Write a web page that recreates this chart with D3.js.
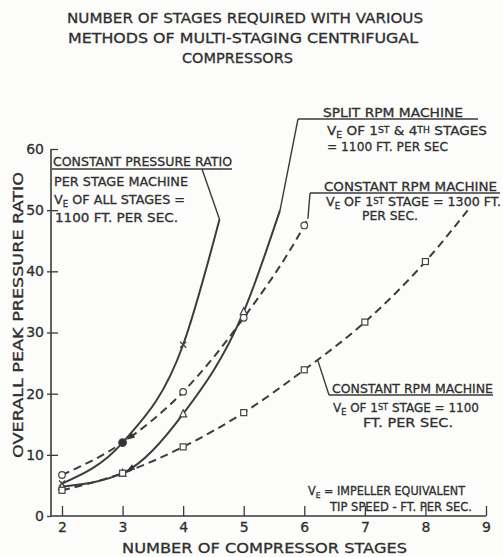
<!DOCTYPE html>
<html>
<head>
<meta charset="utf-8">
<script src="https://cdn.jsdelivr.net/npm/d3@7"></script>
<style>
  html, body { margin: 0; padding: 0; background: #fcfcfb; }
  svg { display: block; }
  text { font-family: "DejaVu Sans", "Liberation Sans", sans-serif; fill: #2f2f2f; stroke: #2f2f2f; stroke-width: 0.3px; }
</style>
</head>
<body>
<script>
// Axis ticks
const xTicks = [2, 3, 4, 5, 6, 7, 8, 9];
const yTicks = [0, 10, 20, 30, 40, 50, 60];

// Constant pressure ratio per stage machine (solid, x markers)
const cprStages = [2, 3, 4, 4.6];
const cprRatio  = [5.3, 12, 28, 48.5];

// Split RPM machine (solid, triangles)
const splitStages = [2, 3, 4, 5, 5.6];
const splitRatio  = [4.8, 7, 16.7, 33.4, 50];

// Constant RPM machine, 1st stage 1300 ft/s (dashed, circles)
const rpm1300Stages = [2, 3, 4, 5, 6, 6.06];
const rpm1300Ratio  = [6.7, 12, 20.3, 32.4, 47.5, 48.6];

// Constant RPM machine, 1st stage 1100 ft/s (dashed, squares)
const rpm1100Stages = [2, 3, 4, 5, 6, 7, 8, 8.7];
const rpm1100Ratio  = [4.2, 7, 11.3, 16.9, 23.9, 31.7, 41.6, 50];

const W = 503, H = 557;
const INK = "#3a3a3a";

const svg = d3.select("body").append("svg").attr("width", W).attr("height", H);

const x = d3.scaleLinear().domain([2, 9]).range([62, 486]);
const y = d3.scaleLinear().domain([0, 60]).range([516, 149]);
const axisX = 51;

// text squeezed or stretched to a given span
function fitText(g, str, x0, x1, baseline, size) {
  const t = g.append("text")
    .attr("x", x0).attr("y", baseline)
    .attr("font-size", size)
    .attr("textLength", x1 - x0)
    .attr("lengthAdjust", "spacingAndGlyphs");
  if (Array.isArray(str)) {
    str.forEach(part => {
      const ts = t.append("tspan").text(part.t);
      if (part.sub) ts.attr("font-size", size * 0.68);
      if (part.dy) ts.attr("dy", part.dy);
    });
  } else t.text(str);
  return t;
}

// ---------- title ----------
const title = svg.append("g").attr("class", "title").style("stroke-width", "0.45px");
fitText(title, "NUMBER OF STAGES REQUIRED WITH VARIOUS", 67, 423, 23, 14);
fitText(title, "METHODS OF MULTI-STAGING  CENTRIFUGAL", 68, 418, 43, 14);
fitText(title, "COMPRESSORS", 182, 293, 63, 14);

// ---------- axes ----------
const ax = svg.append("g").attr("class", "axes");
ax.append("line").attr("x1", axisX).attr("x2", axisX).attr("y1", y(0)).attr("y2", y(60))
  .attr("stroke", INK).attr("stroke-width", 1.6);
ax.append("line").attr("x1", axisX).attr("x2", x(9)).attr("y1", y(0)).attr("y2", y(0))
  .attr("stroke", INK).attr("stroke-width", 1.6);

const yAxis = ax.append("g").attr("transform", `translate(${axisX},0)`)
  .call(d3.axisLeft(y).tickValues(yTicks).tickFormat(d3.format("d"))
    .tickSizeInner(-7).tickSizeOuter(0).tickPadding(7));
yAxis.select(".domain").remove();
yAxis.selectAll(".tick line")
  .attr("x1", d => (d === 60 ? 0 : -4)).attr("x2", d => (d === 0 ? 0 : 7))
  .attr("stroke", INK).attr("stroke-width", 1.3);
yAxis.selectAll(".tick text").attr("font-size", 14).attr("fill", "#333")
  .attr("font-family", "DejaVu Sans, sans-serif");

const xAxis = ax.append("g").attr("transform", `translate(0,${y(0)})`)
  .call(d3.axisBottom(x).tickValues(xTicks).tickFormat(d3.format("d"))
    .tickSizeInner(-10).tickSizeOuter(0).tickPadding(6));
xAxis.select(".domain").remove();
xAxis.selectAll(".tick line").attr("stroke", INK).attr("stroke-width", 1.3);
xAxis.selectAll(".tick text").attr("font-size", 14).attr("fill", "#333")
  .attr("font-family", "DejaVu Sans, sans-serif");

svg.append("text").attr("x", 122).attr("y", 553)
  .attr("font-size", 14.5).attr("textLength", 285).attr("lengthAdjust", "spacingAndGlyphs")
  .text("NUMBER OF COMPRESSOR STAGES");

svg.append("text").attr("transform", "translate(23,315) rotate(-90)").attr("text-anchor", "middle")
  .attr("font-size", 14).attr("textLength", 286).attr("lengthAdjust", "spacingAndGlyphs")
  .text("OVERALL PEAK PRESSURE RATIO");

// ---------- curves ----------
const line = d3.line().x(d => x(d[0])).y(d => y(d[1])).curve(d3.curveMonotoneX);
const pts = (xs, ys) => xs.map((v, i) => [v, ys[i]]);

const series = [
  { key: "cpr",   data: pts(cprStages, cprRatio),         dash: null,  marker: "x" },
  { key: "split", data: pts(splitStages, splitRatio),     dash: null,  marker: "tri" },
  { key: "r1300", data: pts(rpm1300Stages, rpm1300Ratio), dash: "8,5", marker: "circle" },
  { key: "r1100", data: pts(rpm1100Stages, rpm1100Ratio), dash: "8,5", marker: "square" }
];

const curves = svg.append("g").attr("class", "curves");
const paths = {};
series.forEach(s => {
  paths[s.key] = curves.append("path").datum(s.data).attr("d", line)
    .attr("fill", "none").attr("stroke", "#3c3c3c").attr("stroke-width", 2)
    .attr("stroke-dasharray", s.dash);
});

// point on a drawn curve at a given stage value
function pointAtStage(pathSel, stage) {
  const node = pathSel.node(), len = node.getTotalLength(), target = x(stage);
  let lo = 0, hi = len;
  for (let i = 0; i < 40; i++) {
    const mid = (lo + hi) / 2;
    if (node.getPointAtLength(mid).x < target) lo = mid; else hi = mid;
  }
  return node.getPointAtLength(lo);
}
const last = a => a[a.length - 1];

// small arrowheads pointing into the stage-3 junction points
const arrows = svg.append("g").attr("class", "arrows");
[["r1300", 3], ["split", 3]].forEach(([key, st]) => {
  const tip = pointAtStage(paths[key], st + 0.07);
  const back = pointAtStage(paths[key], st + 0.2);
  const dx = tip.x - back.x, dy = tip.y - back.y, L = Math.hypot(dx, dy);
  const ux = dx / L, uy = dy / L, px = -uy, py = ux;
  const bx = tip.x - ux * 8, by = tip.y - uy * 8;
  arrows.append("path")
    .attr("d", `M${tip.x},${tip.y}L${bx + px * 3},${by + py * 3}L${bx - px * 3},${by - py * 3}Z`)
    .attr("fill", "#333");
});

// markers on whole-stage points
const mk = svg.append("g").attr("class", "markers");
series.forEach(s => {
  s.data.filter(d => Number.isInteger(d[0])).forEach(d => {
    const cx = x(d[0]), cy = y(d[1]);
    if (s.marker === "circle") {
      const filled = d[0] === 3;
      mk.append("circle").attr("cx", cx).attr("cy", cy).attr("r", filled ? 3.8 : 3.3)
        .attr("fill", filled ? "#333" : "#fcfcfb").attr("stroke", "#444").attr("stroke-width", 1.2);
    } else if (s.marker === "square") {
      mk.append("rect").attr("x", cx - 3).attr("y", cy - 3).attr("width", 6).attr("height", 6)
        .attr("fill", "#fcfcfb").attr("stroke", "#444").attr("stroke-width", 1.2);
    } else if (s.marker === "tri") {
      mk.append("path").attr("d", `M${cx},${cy - 4}L${cx + 3.5},${cy + 3}L${cx - 3.5},${cy + 3}Z`)
        .attr("fill", "#fcfcfb").attr("stroke", "#444").attr("stroke-width", 1.2);
    } else if (s.marker === "x" && d[0] !== 3) {
      mk.append("path").attr("d", `M${cx - 3},${cy - 3}L${cx + 3},${cy + 3}M${cx + 3},${cy - 3}L${cx - 3},${cy + 3}`)
        .attr("stroke", "#444").attr("stroke-width", 1.3);
    }
  });
});

// ---------- annotations ----------
const ann = svg.append("g").attr("class", "annotations");
const leader = (p0, p1) => ann.append("path").attr("d", `M${p0[0]},${p0[1]}L${p1[0]},${p1[1]}`)
  .attr("fill", "none").attr("stroke", INK).attr("stroke-width", 1.4);
const underline = (x0, x1, yy) => ann.append("line").attr("x1", x0).attr("x2", x1).attr("y1", yy).attr("y2", yy)
  .attr("stroke", INK).attr("stroke-width", 1.5);

const S = 13;
const VE = rest => [{ t: "V" }, { t: "E", sub: true, dy: 3 }, { t: rest, dy: -3 }];
const VE1st = rest => [{ t: "V" }, { t: "E", sub: true, dy: 3 }, { t: " OF 1", dy: -3 },
                       { t: "ST", sub: true, dy: -2.5 }, { t: rest, dy: 2.5 }];

// constant pressure ratio
leader([x(last(cprStages)), y(last(cprRatio))], [202, 169]);
underline(52, 232, 169);
fitText(ann, "CONSTANT PRESSURE RATIO", 53, 232, 166, S);
fitText(ann, "PER STAGE MACHINE", 54, 188, 186, S);
fitText(ann, VE(" OF ALL STAGES ="), 54, 185, 204, S);
fitText(ann, "1100 FT. PER SEC.", 55, 178, 222, S);

// split rpm
leader([x(last(splitStages)), y(last(splitRatio))], [298, 119]);
underline(298, 478, 119);
fitText(ann, "SPLIT RPM MACHINE", 323, 463, 117, S);
fitText(ann, [{ t: "V" }, { t: "E", sub: true, dy: 3 }, { t: " OF 1", dy: -3 },
              { t: "ST", sub: true, dy: -2.5 }, { t: " & 4", dy: 2.5 }, { t: "TH", sub: true, dy: -2.5 },
              { t: " STAGES", dy: 2.5 }], 327, 487, 135, S);
fitText(ann, "= 1100 FT. PER SEC", 327, 448, 151, S);

// constant rpm 1300
leader([x(last(rpm1300Stages)), y(last(rpm1300Ratio))], [310, 193]);
underline(310, 500, 193);
fitText(ann, "CONSTANT RPM MACHINE", 324, 497, 191, S);
fitText(ann, VE1st(" STAGE = 1300 FT."), 326, 501, 206, S);
fitText(ann, "PER SEC.", 362, 418, 220, S);

// constant rpm 1100
const p1100 = pointAtStage(paths.r1100, 6.22);
leader([p1100.x, p1100.y], [329, 395]);
underline(329, 493, 395);
fitText(ann, "CONSTANT RPM MACHINE", 332, 493, 393, S);
fitText(ann, VE1st(" STAGE = 1100"), 333, 479, 412, S);
fitText(ann, "FT. PER SEC.", 363, 453, 427, S);

// tip speed note
fitText(ann, VE(" = IMPELLER  EQUIVALENT"), 308, 465, 495, 11.5);
fitText(ann, "TIP SPEED - FT. PER SEC.", 330, 472, 511, 11.5);
</script>
</body>
</html>
